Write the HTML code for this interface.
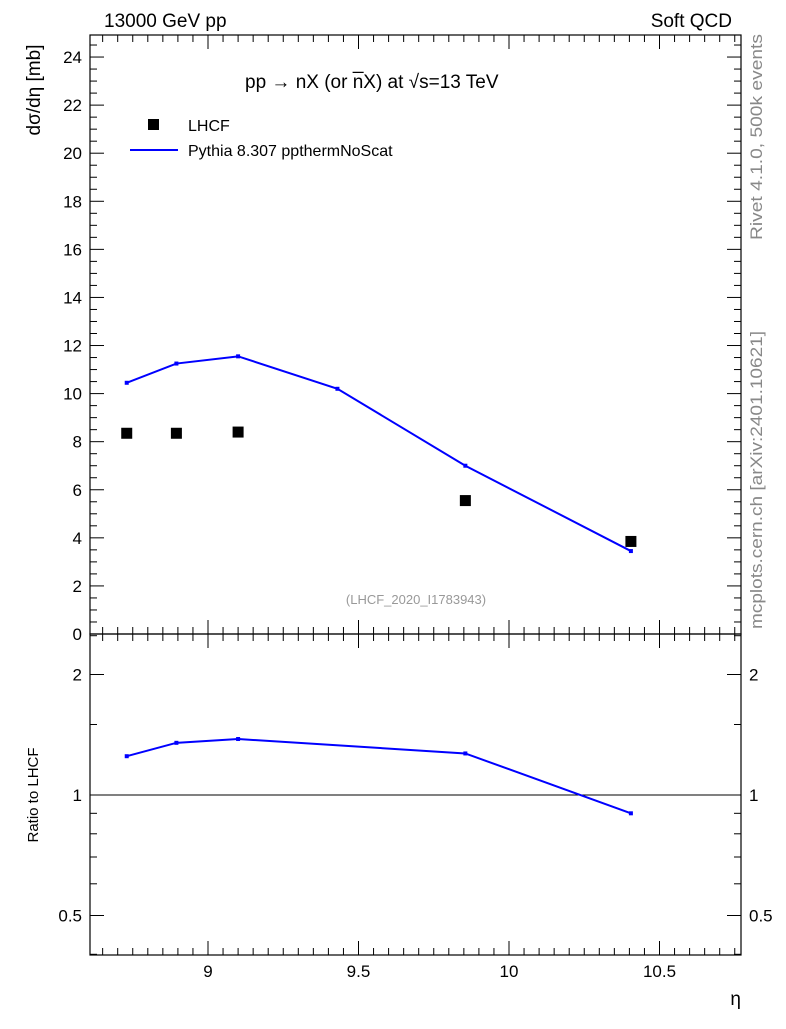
<!DOCTYPE html>
<html><head><meta charset="utf-8"><style>
body{margin:0;background:#fff;font-family:"Liberation Sans",sans-serif;}
svg text{font-family:"Liberation Sans",sans-serif;}
</style></head><body>
<svg id="c" width="786" height="1024" xmlns="http://www.w3.org/2000/svg"></svg>
<script>
const etaLHCF=[8.73,8.895,9.10,9.855,10.405];
const sigLHCF=[8.35,8.35,8.4,5.55,3.85];
const etaPy=[8.73,8.895,9.10,9.43,9.855,10.405];
const sigPy=[10.45,11.25,11.55,10.2,7.0,3.45];
const etaRatio=[8.73,8.895,9.10,9.855,10.405];
const ratio=[1.25,1.35,1.38,1.27,0.90];
const yTicks=[0,2,4,6,8,10,12,14,16,18,20,22,24];
const xTicks=[9,9.5,10,10.5];
const rTicks=[0.5,1,2];

const NS="http://www.w3.org/2000/svg",svg=document.getElementById('c');
function el(t,a,txt){const e=document.createElementNS(NS,t);for(const k in a)e.setAttribute(k,a[k]);if(txt!==undefined)e.textContent=txt;svg.appendChild(e);return e;}
const L=90,R=741,T=35,M=634,B=955;
const X=v=>208+(v-9)*301;
const Y=v=>634-v*24.04;
const YR=v=>795-Math.log2(v)*120.5;

let f=el('rect',{x:L,y:T,width:R-L,height:M-T,fill:'none',stroke:'#000','stroke-width':1.2});

f=el('rect',{x:L,y:M,width:R-L,height:B-M,fill:'none',stroke:'#000','stroke-width':1.2});


for(const v of yTicks){const y=Y(v);
 el('line',{x1:L,x2:L+14,y1:y,y2:y,stroke:'#000'});el('line',{x1:R,x2:R-14,y1:y,y2:y,stroke:'#000'});
 const t=el('text',{x:L-8,y:y+6,'text-anchor':'end','font-size':17},v);
 }
for(let v=0.5;v<25;v+=0.5){if(v%2===0)continue;const y=Y(v);
 el('line',{x1:L,x2:L+7,y1:y,y2:y,stroke:'#000'});el('line',{x1:R,x2:R-7,y1:y,y2:y,stroke:'#000'});}
for(let v=8.65;v<10.78;v+=0.05){const x=X(v);const major=Math.abs(v*2-Math.round(v*2))<1e-6;const h=major?14:7;
 for(const [y0,d] of [[T,1],[M,-1],[M,1],[B,-1]]) el('line',{x1:x,x2:x,y1:y0,y2:y0+d*h,stroke:'#000'});}
for(const v of xTicks){const t=el('text',{x:X(v),y:B+22,'text-anchor':'middle','font-size':17},v);
 }
for(const v of rTicks){const y=YR(v);
 el('line',{x1:L,x2:L+14,y1:y,y2:y,stroke:'#000'});el('line',{x1:R,x2:R-14,y1:y,y2:y,stroke:'#000'});
 let t=el('text',{x:L-8,y:y+6,'text-anchor':'end','font-size':17},v);
 
 t=el('text',{x:R+8,y:y+6,'font-size':17},v);
 }
for(const v of [0.4,0.6,0.7,0.8,0.9,1.5,2.5]){const y=YR(v);if(y<M||y>B)continue;
 el('line',{x1:L,x2:L+7,y1:y,y2:y,stroke:'#000'});el('line',{x1:R,x2:R-7,y1:y,y2:y,stroke:'#000'});}
let ln=el('line',{x1:L,x2:R,y1:YR(1),y2:YR(1),stroke:'#000'});


let p=el('polyline',{points:etaPy.map((x,i)=>X(x)+','+Y(sigPy[i])).join(' '),fill:'none',stroke:'#0000ff','stroke-width':2});

etaPy.forEach((x,i)=>{const r=el('rect',{x:X(x)-2,y:Y(sigPy[i])-2,width:4,height:4,fill:'#0000ff'});
 });
etaLHCF.forEach((x,i)=>{const r=el('rect',{x:X(x)-5.5,y:Y(sigLHCF[i])-5.5,width:11,height:11,fill:'#000'});
 });
p=el('polyline',{points:etaRatio.map((x,i)=>X(x)+','+YR(ratio[i])).join(' '),fill:'none',stroke:'#0000ff','stroke-width':2});

etaRatio.forEach((x,i)=>{const r=el('rect',{x:X(x)-2,y:YR(ratio[i])-2,width:4,height:4,fill:'#0000ff'});
 });

function txt(a,s,name){const t=el('text',a,s);return t;}
txt({x:104,y:27,'font-size':19},'13000 GeV pp','header-left');
txt({x:732,y:27,'font-size':19,'text-anchor':'end'},'Soft QCD','header-right');
txt({x:245,y:88,'font-size':19},'pp \u2192  nX (or n\u0305X) at \u221as=13 TeV','plot-title');
let r=el('rect',{x:148,y:119,width:11,height:11,fill:'#000'});
txt({x:188,y:131,'font-size':16},'LHCF','legend-lhcf');
ln=el('line',{x1:130,x2:178,y1:150,y2:150,stroke:'#0000ff','stroke-width':2});
txt({x:188,y:156,'font-size':16},'Pythia 8.307 ppthermNoScat','legend-pythia');
txt({x:416,y:604,'font-size':13,fill:'#999','text-anchor':'middle'},'(LHCF_2020_I1783943)','analysis-id');
txt({x:40,y:90,'font-size':19,'text-anchor':'middle',transform:'rotate(-90 40 90)'},'dσ/dη [mb]','y-axis-title');
txt({x:38,y:795,'font-size':15,'text-anchor':'middle',transform:'rotate(-90 38 795)'},'Ratio to LHCF','ratio-axis-title');
txt({x:741,y:1005,'font-size':19,'text-anchor':'end'},'η','x-axis-title');
txt({x:762,y:137,'font-size':17,fill:'#888','text-anchor':'middle',textLength:206,lengthAdjust:'spacingAndGlyphs',transform:'rotate(-90 762 137)'},'Rivet 4.1.0,  500k events','rivet-label');
txt({x:762,y:480,'font-size':17,fill:'#888','text-anchor':'middle',textLength:298,lengthAdjust:'spacingAndGlyphs',transform:'rotate(-90 762 480)'},'mcplots.cern.ch [arXiv:2401.10621]','mcplots-label');
</script>
</body></html>
